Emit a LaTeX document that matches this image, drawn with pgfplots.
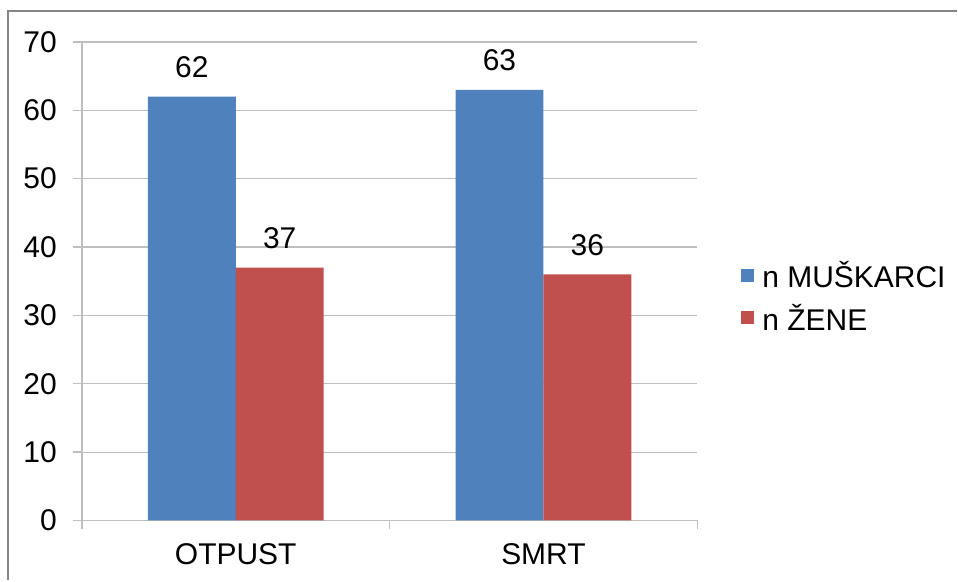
\documentclass[border=0pt]{standalone}
\usepackage{pgfplots}
\pgfplotsset{compat=1.18}
\usepackage{fontspec}
\setmainfont{Liberation Sans}
\definecolor{barblue}{HTML}{4F81BD}
\definecolor{barred}{HTML}{C0504D}
\definecolor{gridgray}{HTML}{BEBEBE}
\definecolor{framegray}{HTML}{858585}
\newcommand{\bigf}{\fontsize{30}{36}\selectfont}
\newcommand{\legf}{\fontsize{30}{36}\selectfont}
\begin{document}
\begin{tikzpicture}
\path (0,0) rectangle (958pt,581pt);
\draw[framegray, line width=2pt] (8pt,0) -- (8pt,570pt) -- (958pt,570pt);
\begin{axis}[
  at={(82pt,60pt)}, anchor=south west,
  scale only axis, width=616pt, height=479pt,
  /pgf/number format/assume math mode=true,
  ybar=0pt, bar width=0.2857,
  xmin=-0.5, xmax=1.5, ymin=0, ymax=70,
  ytick={0,10,...,70},
  xtick={-0.5,0.5,1.5}, xticklabels={},
  extra x ticks={0,1}, extra x tick labels={OTPUST,SMRT},
  extra x tick style={major tick length=0pt},
  ymajorgrids, grid style={gridgray, line width=1.2pt},
  axis x line*=bottom, axis y line*=left,
  axis line style={gridgray, line width=1.5pt, -},
  tick style={gridgray, line width=1.5pt},
  major tick length=9pt, tick align=outside,
  ticklabel style={font=\bigf},
  yticklabel style={inner sep=0pt, xshift=-16pt},
  xticklabel style={yshift=-20pt},
  nodes near coords,
  every node near coord/.append style={font=\bigf, anchor=base, yshift=19pt, inner sep=0pt},
  legend style={at={(1.0714,0.468)}, anchor=west, draw=none, fill=none,
    font=\legf, inner sep=0pt, row sep=15pt, nodes={inner sep=0pt},
    /tikz/every odd column/.append style={column sep=8pt}},
  legend cell align=left,
  legend image code/.code={\fill[#1, draw=none] (0pt,-6.5pt) rectangle (13pt,6.5pt);},
]
\addplot[fill=barblue, draw=none] coordinates {(0,62) (1,63)};
\addplot[fill=barred, draw=none] coordinates {(0,37) (1,36)};
\legend{n MUŠKARCI, n ŽENE}
\end{axis}
\end{tikzpicture}
\end{document}
